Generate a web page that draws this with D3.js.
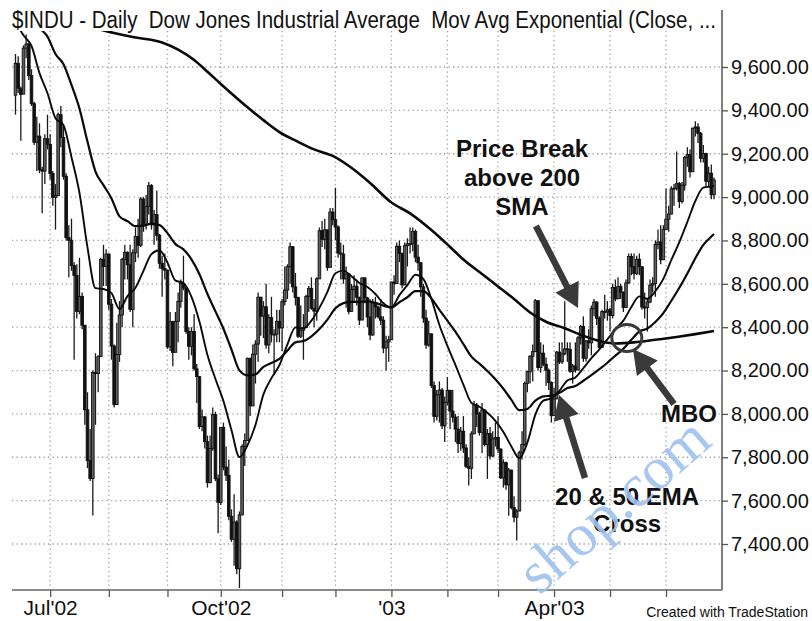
<!DOCTYPE html>
<html>
<head>
<meta charset="utf-8">
<script src="https://cdn.jsdelivr.net/npm/d3@7/dist/d3.min.js"></script>
<style>
  body { margin: 0; background: #fff; }
  svg { display: block; }
</style>
</head>
<body>
<div id="chart"></div>
<script>

// Trading days per month shown, Jun'02 .. Jun'03
var monthLabels = ["", "Jul'02", "", "", "Oct'02", "", "", "'03", "", "", "Apr'03", "", ""]
var monthDays = [13, 22, 22, 20, 23, 20, 21, 21, 19, 21, 21, 21, 19]

// Daily OHLC, one row per month
var opens = [
  9470,9617,9500,9475,9687,9706,9561,9431,9253,9281,9126,9120,9269,
  9243,9109,8999,9007,9380,9275,9096,8813,8801,8684,8639,8473,8542,8409,8019,7785,7702,8191,8186,8264,8712,8680,
  8737,8506,8313,8043,8274,8456,8712,8745,8688,8482,8743,8818,8778,8991,8872,8957,9053,8872,8919,8824,8695,8670,
  8663,8309,8425,8284,8427,8519,8602,8581,8380,8312,8380,8208,8172,7942,7986,7872,7683,7841,7997,7701,
  7592,7938,7755,7717,7528,7422,7501,7286,7534,7850,7877,8256,8037,8275,8322,8538,8451,8494,8318,8444,8368,8368,8427,
  8397,8518,8571,8679,8771,8586,8537,8358,8386,8398,8542,8579,8487,8474,8623,8845,8805,8849,8676,8931,
  8896,8862,8742,8737,8623,8645,8473,8574,8589,8538,8433,8627,8535,8447,8364,8511,8493,8448,8432,8304,8332,
  8342,8608,8601,8773,8740,8595,8776,8785,8785,8842,8723,8697,8586,8442,8318,8369,8131,7989,8088,8110,7945,
  8054,8109,8013,7985,7930,7864,7920,7843,7758,7749,7908,8041,8000,7915,8018,7859,7909,7806,7885,
  7891,7838,7705,7775,7673,7741,7568,7524,7552,7821,7859,8141,8194,8266,8287,8522,8214,8280,8229,8201,8145,
  7992,8069,8285,8240,8277,8300,8298,8197,8221,8203,8351,8403,8257,8337,8328,8485,8516,8441,8307,8472,8471,
  8480,8454,8583,8531,8588,8561,8491,8604,8726,8679,8647,8713,8679,8493,8491,8516,8594,8601,8781,8793,8711,
  8850,8898,8922,9038,9041,9062,8980,9055,9183,9196,9117,9318,9323,9294,9179,9201,9073,9110,9011
]
var highs = [
  9660,9650,9510,9700,9750,9710,9590,9440,9370,9340,9140,9290,9380,
  9290,9120,9060,9390,9420,9330,9110,8870,8900,8700,8690,8720,8560,8410,8100,7930,8200,8280,8270,8720,8780,8760,
  8740,8530,8320,8420,8520,8720,8780,8750,8780,8760,8860,8900,9000,9000,9010,9070,9060,8940,9030,8830,8730,8740,
  8665,8470,8430,8470,8560,8620,8730,8590,8400,8400,8460,8230,8175,8020,7990,7900,7900,8030,8010,7720,
  7940,7960,7850,7790,7560,7630,7510,7550,7860,7910,8260,8260,8320,8340,8560,8540,8520,8600,8460,8540,8390,8480,8480,
  8530,8680,8690,8790,8775,8650,8540,8500,8460,8550,8590,8630,8530,8630,8860,8890,8900,8850,8950,8950,
  9043,8870,8790,8780,8680,8650,8600,8640,8620,8540,8630,8630,8540,8530,8530,8540,8500,8530,8450,8360,8360,
  8610,8640,8790,8800,8745,8790,8810,8860,8860,8850,8780,8700,8600,8480,8430,8370,8150,8110,8150,8120,8080,
  8170,8110,8110,8000,7990,7940,7990,7860,7800,7920,8060,8050,8010,8050,8020,7930,7940,7920,7960,
  7990,7840,7790,7780,7750,7742,7620,7560,7830,7920,8150,8200,8270,8320,8530,8523,8330,8320,8260,8210,8150,
  8120,8290,8330,8330,8520,8330,8330,8230,8330,8360,8410,8450,8340,8390,8500,8530,8520,8450,8480,8550,8520,
  8490,8600,8620,8630,8600,8565,8620,8740,8740,8740,8730,8740,8680,8560,8530,8620,8630,8800,8850,8870,8870,
  9040,8960,9050,9060,9210,9070,9070,9190,9230,9220,9320,9350,9340,9300,9240,9205,9140,9150,9090
]
var lows = [
  9380,9480,9260,9475,9640,9540,9420,9240,9120,9110,8926,9060,9220,
  9080,8960,8850,9007,9230,9080,8800,8630,8660,8250,8440,8460,8390,7950,7750,7690,7532,7950,8100,8264,8590,8590,
  8480,8250,8030,8043,8240,8400,8620,8620,8470,8400,8700,8720,8770,8840,8850,8920,8850,8780,8800,8670,8540,8620,
  8300,8290,8220,8284,8330,8490,8570,8370,8250,8270,8200,8050,7930,7920,7840,7660,7680,7830,7690,7450,
  7580,7740,7690,7510,7410,7300,7260,7197,7534,7760,7877,7990,8037,8140,8240,8360,8350,8300,8280,8330,8180,8330,8330,
  8290,8500,8530,8600,8560,8500,8350,8350,8250,8398,8470,8480,8400,8430,8623,8770,8760,8660,8676,8870,
  8800,8720,8620,8600,8490,8460,8470,8520,8500,8410,8433,8510,8400,8340,8360,8440,8440,8410,8280,8200,8240,
  8342,8550,8601,8700,8580,8595,8680,8740,8750,8700,8660,8540,8420,8300,8310,8120,7960,7970,7960,7930,7870,
  8040,7930,7960,7870,7820,7830,7820,7750,7670,7700,7908,7940,7900,7820,7850,7700,7790,7800,7850,
  7820,7700,7660,7650,7530,7560,7500,7416,7552,7790,7850,8100,8140,8150,8287,8200,8190,8220,8130,8110,7960,
  7990,8069,8230,8230,8270,8240,8190,8140,8190,8200,8320,8240,8240,8300,8270,8450,8410,8300,8307,8440,8430,
  8380,8440,8520,8530,8530,8470,8491,8600,8640,8620,8640,8640,8480,8440,8380,8510,8560,8540,8760,8690,8711,
  8850,8840,8920,8960,9030,8950,8970,9030,9140,9090,9117,9280,9250,9160,9160,9050,9050,8990,8990
]
var closes = [
  9617,9502,9474,9687,9706,9561,9431,9253,9281,9126,9120,9269,9243,
  9109,8999,9007,9380,9275,9096,8813,8801,8684,8639,8473,8542,8409,8019,7785,7702,8191,8186,8264,8712,8680,8737,
  8506,8313,8043,8274,8456,8712,8745,8688,8482,8743,8818,8778,8991,8872,8957,9053,8872,8919,8824,8695,8670,8663,
  8309,8425,8284,8427,8519,8602,8581,8380,8312,8380,8208,8172,7942,7986,7872,7683,7841,7997,7701,7592,
  7938,7755,7717,7528,7422,7501,7286,7534,7850,7877,8256,8037,8275,8322,8538,8451,8494,8318,8444,8368,8368,8427,8397,
  8518,8571,8679,8771,8586,8537,8358,8386,8398,8542,8579,8487,8474,8623,8845,8805,8849,8676,8931,8896,
  8862,8742,8737,8623,8645,8473,8574,8589,8538,8433,8627,8535,8447,8364,8511,8493,8448,8432,8304,8332,8342,
  8608,8601,8773,8740,8595,8776,8785,8785,8842,8723,8697,8586,8442,8318,8369,8131,7989,8088,8110,7945,8054,
  8109,8013,7985,7930,7864,7920,7843,7758,7749,7908,8041,8000,7915,8018,7859,7909,7806,7885,7891,
  7838,7705,7775,7673,7741,7568,7524,7552,7821,7859,8141,8194,8266,8287,8522,8214,8280,8229,8201,8145,7992,
  8069,8285,8240,8277,8300,8298,8197,8221,8203,8351,8403,8257,8337,8328,8485,8516,8441,8307,8472,8471,8480,
  8454,8583,8531,8588,8561,8491,8604,8726,8679,8647,8713,8679,8493,8491,8516,8594,8601,8781,8793,8711,8850,
  8898,8922,9038,9041,9062,8980,9055,9183,9196,9117,9318,9323,9294,9179,9201,9073,9110,9011,9079
]

// Moving averages, every 3rd bar
var emaDays = d3.range(0, 262, 3).concat([262])
var ema20 = [
  9810,9746,9697,9572,9479,9364,9332,9184,9019,8768,8580,8576,8557,8483,8543,8582,8660,8737,8755,8698,
  8615,8604,8540,8425,8272,8161,8059,7926,7801,7855,7949,8090,8165,8225,8321,8399,8394,8430,8489,8563,
  8649,8661,8635,8604,8585,8553,8510,8491,8548,8594,8642,8622,8530,8410,8314,8226,8135,8051,8033,8005,
  7968,7917,7850,7796,7868,7997,8061,8072,8106,8154,8168,8211,8257,8298,8344,8391,8430,8493,8542,8531,
  8566,8623,8710,8792,8885,8982,9044,9049,9052
]
var ema50 = [
  9937,9894,9857,9784,9740,9660,9613,9517,9408,9256,9118,9055,8994,8911,8889,8866,8868,8878,8871,8834,
  8783,8759,8713,8644,8553,8473,8393,8297,8201,8178,8182,8217,8235,8254,8292,8330,8336,8358,8392,8435,
  8487,8511,8517,8517,8519,8512,8499,8491,8515,8538,8566,8566,8533,8480,8430,8379,8322,8264,8232,8198,
  8160,8116,8065,8017,8023,8061,8081,8084,8097,8119,8129,8153,8179,8206,8236,8269,8300,8342,8380,8394,
  8424,8465,8522,8582,8648,8718,8780,8818,8830
]
var smaDays = [0,10,20,30,37,44,55,61,67,72,77,86,93,99,106,112,119,126,133,141,148,156,163,168,175,181,187,193,199,206,212,218,225,232,240,248,255,262]
var sma200 = [9860,9835,9805,9778,9757,9738,9713,9680,9632,9578,9522,9425,9355,9300,9255,9220,9190,9135,9065,8975,8925,8848,8770,8712,8645,8588,8530,8468,8425,8395,8365,8340,8325,8330,8342,8355,8368,8382]

var priceTicks = [7400, 7600, 7800, 8000, 8200, 8400, 8600, 8800, 9000, 9200, 9400, 9600]

var title = "$INDU - Daily  Dow Jones Industrial Average  Mov Avg Exponential (Close, ..."

var W = 812, H = 621
var plot = { left: 12, right: 722, top: 31, bottom: 590 }
var n = Math.min(opens.length, highs.length, lows.length, closes.length)

var svg = d3.select("#chart").append("svg")
    .attr("width", W)
    .attr("height", H)

var x = d3.scaleLinear().domain([0, 262]).range([15.5, 714])
var y = d3.scaleLinear().domain([7400, 9600]).range([544, 67])

// month start positions
var monthStart = []
var acc = 0
monthDays.forEach(function (d) { monthStart.push(acc); acc += d })

svg.append("defs").append("clipPath").attr("id", "plotClip")
    .append("rect")
    .attr("x", plot.left).attr("y", plot.top)
    .attr("width", plot.right - plot.left).attr("height", plot.bottom - plot.top)

// Grid
var grid = svg.append("g").attr("id", "grid")
grid.selectAll("line.h").data(priceTicks).enter().append("line")
    .attr("class", "h")
    .attr("x1", plot.left).attr("x2", plot.right)
    .attr("y1", d => y(d)).attr("y2", d => y(d))
grid.selectAll("line.v").data(monthStart.slice(1)).enter().append("line")
    .attr("class", "v")
    .attr("x1", d => x(d)).attr("x2", d => x(d))
    .attr("y1", plot.top).attr("y2", plot.bottom)
grid.selectAll("line")
    .attr("stroke", "#a0a0a0")
    .attr("stroke-width", 1.3)
    .attr("stroke-dasharray", "1.3,3.2")

var canvas = svg.append("g").attr("clip-path", "url(#plotClip)")

// Candles
var bars = canvas.append("g").attr("id", "candles")
bars.selectAll("line").data(d3.range(n)).enter().append("line")
    .attr("x1", i => x(i)).attr("x2", i => x(i))
    .attr("y1", i => y(highs[i])).attr("y2", i => y(lows[i]))
    .attr("stroke", "#1a1a1a").attr("stroke-width", 1.3)
bars.selectAll("rect").data(d3.range(n)).enter().append("rect")
    .attr("x", i => x(i) - 1.3)
    .attr("width", 2.6)
    .attr("y", i => y(Math.max(opens[i], closes[i])))
    .attr("height", i => Math.max(1, Math.abs(y(opens[i]) - y(closes[i]))))
    .attr("fill", i => closes[i] < opens[i] ? "#111" : "#5e5e5e")
    .attr("stroke", "#111").attr("stroke-width", 0.9)

// Moving averages
var maLine = d3.line().curve(d3.curveMonotoneX)
function drawMA(days, vals, w) {
    canvas.append("path")
        .attr("d", maLine(days.map((d, k) => [x(d), y(vals[k])])))
        .attr("fill", "none")
        .attr("stroke", "#0a0a0a")
        .attr("stroke-width", w)
}
drawMA(smaDays, sma200, 2.6)
drawMA(emaDays, ema50, 2.2)
drawMA(emaDays, ema20, 1.9)

// Axes
var yAxis = svg.append("g")
    .attr("transform", "translate(" + plot.right + ",0)")
    .call(d3.axisRight(y).tickValues(priceTicks).tickFormat(d3.format(",.2f")).tickSize(6).tickPadding(3))
yAxis.select(".domain").remove()
yAxis.selectAll("line").attr("stroke", "#555").attr("stroke-width", 1.3)
yAxis.selectAll("text")
    .attr("font-family", "'Liberation Sans', Arial, sans-serif")
    .attr("font-size", 20)
    .attr("fill", "#111")

svg.append("line")
    .attr("x1", plot.right).attr("x2", plot.right)
    .attr("y1", 10).attr("y2", plot.bottom)
    .attr("stroke", "#555").attr("stroke-width", 1.5)

var xAxis = svg.append("g")
    .attr("transform", "translate(0," + plot.bottom + ")")
    .call(d3.axisBottom(x).tickValues(monthStart.slice(1))
        .tickFormat((d, k) => monthLabels[k + 1]).tickSize(7).tickPadding(3))
xAxis.select(".domain").remove()
xAxis.selectAll("line").attr("stroke", "#555").attr("stroke-width", 1.3)
xAxis.selectAll("text")
    .attr("font-family", "'Liberation Sans', Arial, sans-serif")
    .attr("font-size", 21)
    .attr("fill", "#111")

svg.append("line")
    .attr("x1", plot.left).attr("x2", plot.right)
    .attr("y1", plot.bottom).attr("y2", plot.bottom)
    .attr("stroke", "#666").attr("stroke-width", 1.5)

// Title and footer
svg.append("text")
    .attr("x", 12).attr("y", 28)
    .attr("font-family", "'Liberation Sans Narrow', 'Liberation Sans', Arial, sans-serif")
    .attr("font-size", 23)
    .attr("textLength", 704).attr("lengthAdjust", "spacingAndGlyphs")
    .attr("fill", "#111")
    .style("white-space", "pre")
    .text(title)

svg.append("text")
    .attr("x", 808).attr("y", 617)
    .attr("text-anchor", "end")
    .attr("font-family", "'Liberation Sans', Arial, sans-serif")
    .attr("font-size", 14)
    .attr("fill", "#111")
    .text("Created with TradeStation")

// Annotations
var ann = svg.append("g").attr("id", "annotations")
var grey = "#3a3a3a"

function arrow(tail, tip) {
    var x0 = x(tail[0]), y0 = y(tail[1]), x1 = x(tip[0]), y1 = y(tip[1])
    var dx = x1 - x0, dy = y1 - y0, len = Math.sqrt(dx * dx + dy * dy)
    var ux = dx / len, uy = dy / len
    var bx = x1 - ux * 24, by = y1 - uy * 24
    ann.append("line")
        .attr("x1", x0).attr("y1", y0).attr("x2", bx + ux * 2).attr("y2", by + uy * 2)
        .attr("stroke", grey).attr("stroke-width", 6.5)
    ann.append("path")
        .attr("d", "M" + x1 + "," + y1 +
            "L" + (bx - uy * 13) + "," + (by + ux * 13) +
            "L" + (bx + uy * 13) + "," + (by - ux * 13) + "Z")
        .attr("fill", grey)
}

arrow([195.2, 8867], [211.0, 8488])   // price break
arrow([213.6, 7704], [203.9, 8087])   // 20 & 50 EMA cross
arrow([247.0, 8046], [231.6, 8299])   // MBO

ann.append("ellipse")
    .attr("cx", x(229.3)).attr("cy", y(8350))
    .attr("rx", 15).attr("ry", 13.5)
    .attr("fill", "none").attr("stroke", grey).attr("stroke-width", 3)

function label(lines, i, p, step) {
    lines.forEach(function (t, k) {
        ann.append("text")
            .attr("x", x(i)).attr("y", y(p) + k * step)
            .attr("text-anchor", "middle")
            .attr("font-family", "'Liberation Sans', Arial, sans-serif")
            .attr("font-weight", "bold")
            .attr("font-size", 24)
            .attr("fill", "#111")
            .text(t)
    })
}
label(["Price Break", "above 200", "SMA"], 190, 9185, 29)
label(["MBO"], 252.6, 7963, 0)
label(["20 & 50 EMA", "Cross"], 229.4, 7580, 27)

// Watermark
svg.append("text")
    .attr("transform", "translate(714,444) rotate(-41)")
    .attr("text-anchor", "end")
    .attr("font-family", "'Liberation Serif', serif")
    .attr("font-size", 60)
    .attr("fill", "#9fc2ee")
    .attr("opacity", 0.9)
    .text("shop.com")

</script>
</body>
</html>
